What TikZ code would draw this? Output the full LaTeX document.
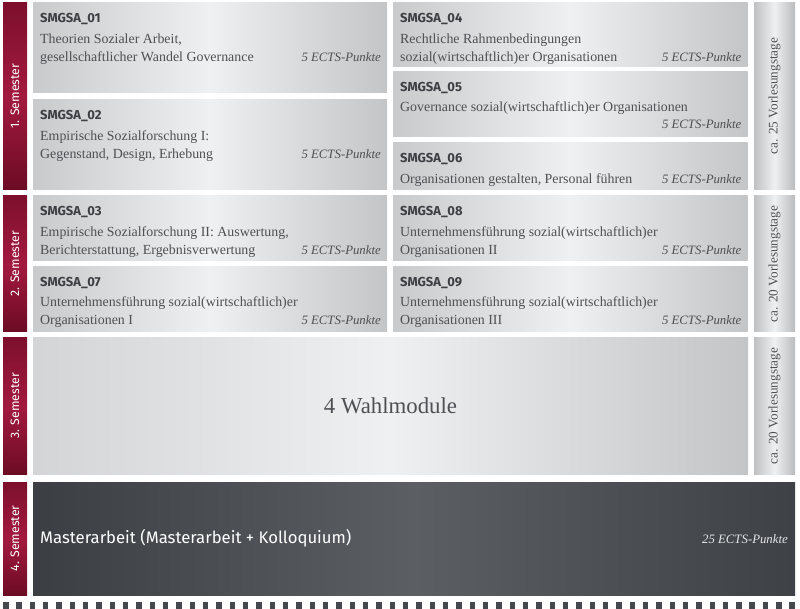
\documentclass[tikz,border=0pt]{standalone}
\usepackage{fontspec}
\setmainfont{Liberation Serif}
\setsansfont{Fira Sans}
\usetikzlibrary{calc}
\definecolor{semtop}{HTML}{7D0F2D}
\definecolor{semmid}{HTML}{A3193F}
\definecolor{sembot}{HTML}{6C0B25}
\definecolor{modl}{HTML}{C9CACC}
\definecolor{modm}{HTML}{EFF0F1}
\definecolor{modr}{HTML}{C4C5C7}
\definecolor{darkl}{HTML}{3B3F44}
\definecolor{darkm}{HTML}{5B5F63}
\definecolor{darkr}{HTML}{3E4247}
\definecolor{bodygray}{HTML}{4D5054}
\definecolor{headgray}{HTML}{3C3F43}
\definecolor{dashgray}{HTML}{45494D}
\tikzset{sembar/.style={inner sep=0pt,outer sep=0pt,anchor=north west,minimum width=24pt,minimum height=#1,
  top color=semtop,bottom color=sembot,middle color=semmid}}
\tikzset{semtext/.style={rotate=90,text=white,font=\sffamily\fontsize{12.3}{14}\selectfont,inner sep=0pt}}
\tikzset{modbox/.style 2 args={inner sep=0pt,outer sep=0pt,anchor=north west,minimum width=#1,minimum height=#2,
  left color=modl,right color=modr,middle color=modm}}
\tikzset{sidebox/.style={inner sep=0pt,outer sep=0pt,anchor=north west,minimum width=41pt,minimum height=#1,
  left color=modl!95!black,right color=modr!95!black,middle color=modm}}
\tikzset{sidetext/.style={rotate=90,text=bodygray,font=\fontsize{13.2}{15}\selectfont,inner sep=0pt}}
\tikzset{heading/.style={anchor=base west,inner sep=0pt,text=headgray,font=\sffamily\bfseries\fontsize{13}{14}\selectfont}}
\tikzset{bodyline/.style={anchor=base west,inner sep=0pt,text=bodygray,font=\fontsize{13.9}{18}\selectfont}}
\tikzset{ects/.style={anchor=base east,inner sep=0pt,text=#1,font=\itshape\fontsize{12.8}{18}\selectfont},ects/.default=bodygray}
\tikzset{dashsquare/.style={fill=dashgray}}

\begin{document}
\begin{tikzpicture}[x=1pt,y=-1pt]
\useasboundingbox (0,0) rectangle (800,609);

% semester bars
\node[sembar=187pt] (s1) at (3,2.5) {};
\node[sembar=136pt] (s2) at (3,195.5) {};
\node[sembar=136pt] (s3) at (3,338) {};
\node[sembar=113pt] (s4) at (3,482) {};
\node[semtext] (s1t) at (s1.center) {1. Semester};
\node[semtext] (s2t) at (s2.center) {2. Semester};
\node[semtext] (s3t) at (s3.center) {3. Semester};
\node[semtext] (s4t) at (s4.center) {4. Semester};

% side column
\node[sidebox=187pt] (v1) at (754,2.5) {};
\node[sidebox=136pt] (v2) at (754,196) {};
\node[sidebox=136pt] (v3) at (754,338) {};
\node[sidetext] (v1t) at (v1.center) {ca. 25 Vorlesungstage};
\node[sidetext] (v2t) at (v2.center) {ca. 20 Vorlesungstage};
\node[sidetext] (v3t) at (v3.center) {ca. 20 Vorlesungstage};

% 1. Semester
\node[modbox={354pt}{90pt}] (m01) at (33,2.5) {};
\node[heading] (m01h) at ($(m01.north west)+(7,20)$) {SMGSA\_01};
\node[bodyline] (m01a) at ($(m01.north west)+(7,41)$) {Theorien Sozialer Arbeit,};
\node[bodyline] (m01b) at ($(m01.north west)+(7,59)$) {gesellschaftlicher Wandel Governance};
\node[ects] (m01e) at ($(m01.north east)+(-6,59)$) {5 ECTS-Punkte};

\node[modbox={354pt}{90pt}] (m02) at (33,99.5) {};
\node[heading] (m02h) at ($(m02.north west)+(7,20)$) {SMGSA\_02};
\node[bodyline] (m02a) at ($(m02.north west)+(7,41)$) {Empirische Sozialforschung I:};
\node[bodyline] (m02b) at ($(m02.north west)+(7,59)$) {Gegenstand, Design, Erhebung};
\node[ects] (m02e) at ($(m02.north east)+(-6,59)$) {5 ECTS-Punkte};

\node[modbox={354.5pt}{64pt}] (m04) at (393,2.5) {};
\node[heading] (m04h) at ($(m04.north west)+(7,20)$) {SMGSA\_04};
\node[bodyline] (m04a) at ($(m04.north west)+(7,41)$) {Rechtliche Rahmenbedingungen};
\node[bodyline] (m04b) at ($(m04.north west)+(7,59)$) {sozial(wirtschaftlich)er Organisationen};
\node[ects] (m04e) at ($(m04.north east)+(-6,59)$) {5 ECTS-Punkte};

\node[modbox={354.5pt}{65pt}] (m05) at (393,71.5) {};
\node[heading] (m05h) at ($(m05.north west)+(7,20.5)$) {SMGSA\_05};
\node[bodyline] (m05a) at ($(m05.north west)+(7,40.5)$) {Governance sozial(wirtschaftlich)er Organisationen};
\node[ects] (m05e) at ($(m05.north east)+(-6,57.5)$) {5 ECTS-Punkte};

\node[modbox={354.5pt}{47pt}] (m06) at (393,142.5) {};
\node[heading] (m06h) at ($(m06.north west)+(7,20.5)$) {SMGSA\_06};
\node[bodyline] (m06a) at ($(m06.north west)+(7,41)$) {Organisationen gestalten, Personal führen};
\node[ects] (m06e) at ($(m06.north east)+(-6,41)$) {5 ECTS-Punkte};

% 2. Semester
\node[modbox={354pt}{64.5pt}] (m03) at (33,196) {};
\node[heading] (m03h) at ($(m03.north west)+(7,20)$) {SMGSA\_03};
\node[bodyline] (m03a) at ($(m03.north west)+(7,40.5)$) {Empirische Sozialforschung II: Auswertung,};
\node[bodyline] (m03b) at ($(m03.north west)+(7,58.5)$) {Berichterstattung, Ergebnisverwertung};
\node[ects] (m03e) at ($(m03.north east)+(-6,58.5)$) {5 ECTS-Punkte};

\node[modbox={354pt}{65pt}] (m07) at (33,267) {};
\node[heading] (m07h) at ($(m07.north west)+(7,20)$) {SMGSA\_07};
\node[bodyline] (m07a) at ($(m07.north west)+(7,40)$) {Unternehmensführung sozial(wirtschaftlich)er};
\node[bodyline] (m07b) at ($(m07.north west)+(7,58)$) {Organisationen I};
\node[ects] (m07e) at ($(m07.north east)+(-6,58)$) {5 ECTS-Punkte};

\node[modbox={354.5pt}{64.5pt}] (m08) at (393,196) {};
\node[heading] (m08h) at ($(m08.north west)+(7,20)$) {SMGSA\_08};
\node[bodyline] (m08a) at ($(m08.north west)+(7,40.5)$) {Unternehmensführung sozial(wirtschaftlich)er};
\node[bodyline] (m08b) at ($(m08.north west)+(7,58.5)$) {Organisationen II};
\node[ects] (m08e) at ($(m08.north east)+(-6,58.5)$) {5 ECTS-Punkte};

\node[modbox={354.5pt}{65pt}] (m09) at (393,267) {};
\node[heading] (m09h) at ($(m09.north west)+(7,20)$) {SMGSA\_09};
\node[bodyline] (m09a) at ($(m09.north west)+(7,40)$) {Unternehmensführung sozial(wirtschaftlich)er};
\node[bodyline] (m09b) at ($(m09.north west)+(7,58)$) {Organisationen III};
\node[ects] (m09e) at ($(m09.north east)+(-6,58)$) {5 ECTS-Punkte};

% 3. Semester
\node[modbox={715pt}{136pt},left color=modl!80!white,right color=modr,middle color=modm] (wahl) at (33,338) {};
\node[inner sep=0pt,text=bodygray,font=\fontsize{22.8}{26}\selectfont] (wahlt) at (wahl.center) {4 Wahlmodule};

% 4. Semester
\node[modbox={762pt}{113pt},left color=darkl,right color=darkr,middle color=darkm] (master) at (33,482) {};
\node[anchor=base west,inner sep=0pt,text=white,font=\sffamily\fontsize{16.7}{18}\selectfont] (mastert)
  at ($(master.north west)+(7,61)$) {Masterarbeit (Masterarbeit + Kolloquium)};
\node[ects=white!80!gray] (mastere) at ($(master.north east)+(-7,61)$) {25 ECTS-Punkte};

% bottom border
\foreach \i in {0,...,59}
  \fill[dashsquare] (3+\i*13.33,602) rectangle ++(5.5,8);
\end{tikzpicture}
\end{document}
